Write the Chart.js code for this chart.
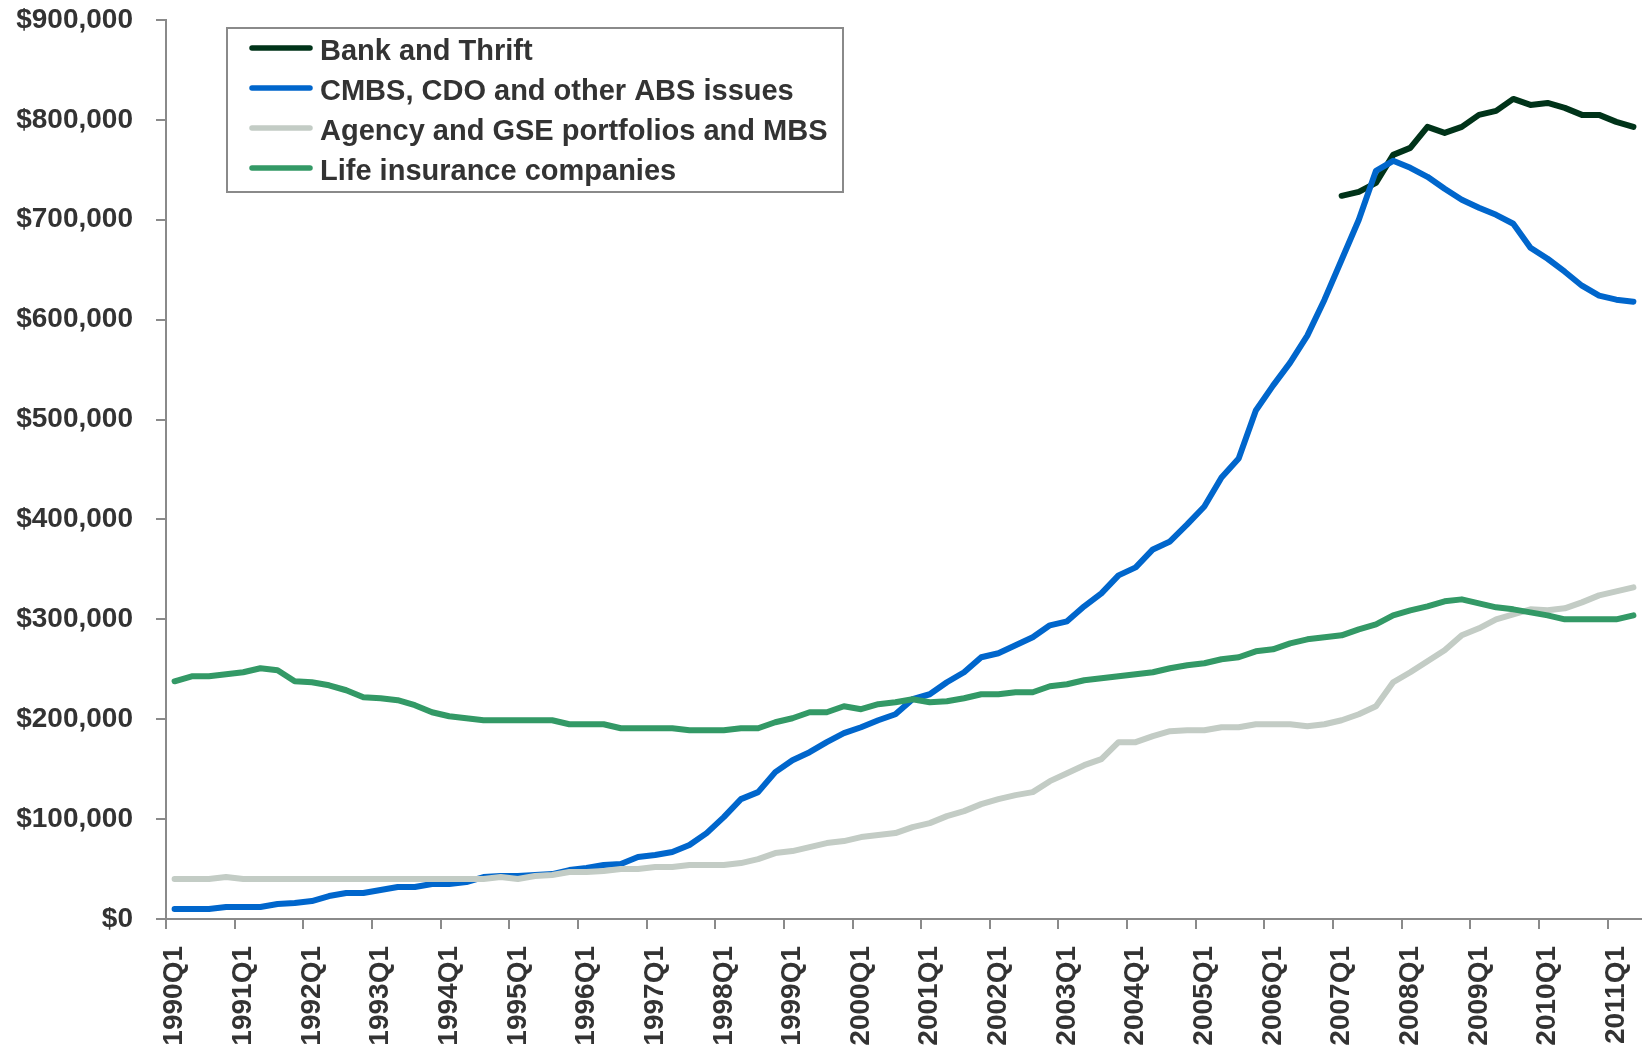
<!DOCTYPE html>
<html>
<head>
<meta charset="utf-8">
<title>Commercial mortgage holdings by lender</title>
<script src="https://cdn.jsdelivr.net/npm/chart.js@4.4.1/dist/chart.umd.min.js"></script>
<style>
  html, body { margin: 0; padding: 0; background: #fff; overflow: hidden; }
  canvas { display: block; }
</style>
</head>
<body>
<canvas id="holdingsChart" width="1642" height="1047"></canvas>
<script>
// quarterly labels, 1990Q1 .. 2011Q2
const quarters = [];
for (let y = 1990; y <= 2011; y++) {
  for (let q = 1; q <= 4; q++) {
    if (y === 2011 && q > 2) break;
    quarters.push(`${y}Q${q}`);
  }
}

// bank & thrift series only starts in 2007Q1
const bankStart = '2007Q1';
const bankThrift = [
  724000, 728000, 737000, 765000, 772000, 793000, 787000, 793000, 805000, 809000,
  821000, 815000, 817000, 812000, 805000, 805000, 798000, 793000,
];

const cmbsAbs = [
  10000, 10000, 10000, 12000, 12000, 12000, 15000, 16000, 18000, 23000,
  26000, 26000, 29000, 32000, 32000, 35000, 35000, 37000, 42000, 43000,
  43000, 44000, 45000, 49000, 51000, 54000, 55000, 62000, 64000, 67000,
  74000, 86000, 102000, 120000, 127000, 147000, 159000, 167000, 177000, 186000,
  192000, 199000, 205000, 220000, 225000, 237000, 247000, 262000, 266000, 274000,
  282000, 294000, 298000, 313000, 326000, 344000, 352000, 370000, 378000, 395000,
  413000, 442000, 461000, 509000, 534000, 557000, 584000, 620000, 660000, 700000,
  749000, 759000, 752000, 743000, 731000, 720000, 712000, 705000, 696000, 672000,
  661000, 648000, 634000, 624000, 620000, 618000,
];

const agencyGse = [
  40000, 40000, 40000, 42000, 40000, 40000, 40000, 40000, 40000, 40000,
  40000, 40000, 40000, 40000, 40000, 40000, 40000, 40000, 40000, 42000,
  40000, 43000, 44000, 47000, 47000, 48000, 50000, 50000, 52000, 52000,
  54000, 54000, 54000, 56000, 60000, 66000, 68000, 72000, 76000, 78000,
  82000, 84000, 86000, 92000, 96000, 103000, 108000, 115000, 120000, 124000,
  127000, 138000, 146000, 154000, 160000, 177000, 177000, 183000, 188000, 189000,
  189000, 192000, 192000, 195000, 195000, 195000, 193000, 195000, 199000, 205000,
  213000, 237000, 247000, 258000, 269000, 284000, 291000, 300000, 305000, 310000,
  309000, 311000, 317000, 324000, 328000, 332000,
];

const lifeInsurance = [
  238000, 243000, 243000, 245000, 247000, 251000, 249000, 238000, 237000, 234000,
  229000, 222000, 221000, 219000, 214000, 207000, 203000, 201000, 199000, 199000,
  199000, 199000, 199000, 195000, 195000, 195000, 191000, 191000, 191000, 191000,
  189000, 189000, 189000, 191000, 191000, 197000, 201000, 207000, 207000, 213000,
  210000, 215000, 217000, 220000, 217000, 218000, 221000, 225000, 225000, 227000,
  227000, 233000, 235000, 239000, 241000, 243000, 245000, 247000, 251000, 254000,
  256000, 260000, 262000, 268000, 270000, 276000, 280000, 282000, 284000, 290000,
  295000, 304000, 309000, 313000, 318000, 320000, 316000, 312000, 310000, 307000,
  304000, 300000, 300000, 300000, 300000, 304000,
];

const seriesNames = [
  'Bank and Thrift',
  'CMBS, CDO and other ABS issues',
  'Agency and GSE portfolios and MBS',
  'Life insurance companies',
];
const seriesColors = ['#003319', '#0066cc', '#c3ccc5', '#339966'];

const axisColor = '#8a8a8a';
const textColor = '#333333';
const fontFamily = '"Liberation Sans", Arial, sans-serif';

Chart.defaults.font.family = fontFamily;
Chart.defaults.font.weight = 'bold';
Chart.defaults.color = textColor;

// x is the quarter index; each quarter owns the slot [i - 0.5, i + 0.5]
const toPoints = (values, first = 0) => values.map((v, i) => ({ x: first + i, y: v }));

// one tick per year, on the slot boundary before each Q1
const yearStarts = quarters
  .map((q, i) => (q.endsWith('Q1') ? i : -1))
  .filter((i) => i >= 0);

// boxed legend in the upper left of the plot
const legendBox = {
  id: 'legendBox',
  afterDraw(chart) {
    const { ctx } = chart;
    const x = 227, y = 28, w = 616, h = 164;
    ctx.save();
    ctx.fillStyle = '#fff';
    ctx.fillRect(x, y, w, h);
    ctx.strokeStyle = axisColor;
    ctx.lineWidth = 2;
    ctx.strokeRect(x, y, w, h);
    ctx.font = `bold 29px ${fontFamily}`;
    ctx.textBaseline = 'alphabetic';
    ctx.lineCap = 'round';
    chart.data.datasets.forEach((ds, i) => {
      const rowY = y + 20 + i * 40;
      ctx.strokeStyle = ds.borderColor;
      ctx.lineWidth = 5.5;
      ctx.beginPath();
      ctx.moveTo(x + 25, rowY);
      ctx.lineTo(x + 83, rowY);
      ctx.stroke();
      ctx.fillStyle = textColor;
      ctx.fillText(ds.label, x + 93, rowY + 12);
    });
    ctx.restore();
  },
};

function lineSet(label, data, color, order) {
  return {
    label,
    data,
    borderColor: color,
    backgroundColor: color,
    borderWidth: 6,
    borderCapStyle: 'round',
    borderJoinStyle: 'round',
    pointRadius: 0,
    tension: 0,
    fill: false,
    order,
  };
}

new Chart(document.getElementById('holdingsChart'), {
  type: 'line',
  data: {
    datasets: [
      lineSet(seriesNames[0], toPoints(bankThrift, quarters.indexOf(bankStart)), seriesColors[0], 4),
      lineSet(seriesNames[1], toPoints(cmbsAbs), seriesColors[1], 3),
      lineSet(seriesNames[2], toPoints(agencyGse), seriesColors[2], 2),
      lineSet(seriesNames[3], toPoints(lifeInsurance), seriesColors[3], 1),
    ],
  },
  options: {
    responsive: false,
    animation: false,
    devicePixelRatio: 1,
    layout: { padding: { top: 20, right: 0, bottom: 0, left: 0 } },
    plugins: {
      legend: { display: false },
      tooltip: { enabled: false },
    },
    scales: {
      x: {
        type: 'linear',
        min: -0.5,
        max: quarters.length - 0.5,
        afterBuildTicks(scale) {
          scale.ticks = yearStarts.map((i) => ({ value: i - 0.5 }));
        },
        afterFit(scale) {
          scale.height = 128;
          scale.paddingLeft = 0;
          scale.paddingRight = 0;
        },
        border: { display: true, color: axisColor, width: 2 },
        grid: {
          drawOnChartArea: false,
          drawTicks: true,
          tickLength: 10,
          lineWidth: 2,
          color: axisColor,
        },
        ticks: {
          autoSkip: false,
          maxRotation: 90,
          minRotation: 90,
          padding: 17,
          color: textColor,
          font: { size: 28, weight: 'bold' },
          // labels sit in the middle of the Q1 slot
          labelOffset: (ctx) => (ctx.scale.getPixelForValue(1) - ctx.scale.getPixelForValue(0)) / 2,
          callback: (value) => quarters[Math.round(value + 0.5)],
        },
      },
      y: {
        min: 0,
        max: 900000,
        afterFit(scale) {
          scale.width = 166;
          scale.paddingTop = 0;
          scale.paddingBottom = 0;
        },
        border: { display: true, color: axisColor, width: 2 },
        grid: {
          drawOnChartArea: false,
          drawTicks: true,
          tickLength: 10,
          lineWidth: 2,
          color: axisColor,
        },
        ticks: {
          stepSize: 100000,
          padding: 23,
          color: textColor,
          font: { size: 28, weight: 'bold' },
          callback: (v) => '$' + Number(v).toLocaleString('en-US'),
        },
      },
    },
  },
  plugins: [legendBox],
});
</script>
</body>
</html>
